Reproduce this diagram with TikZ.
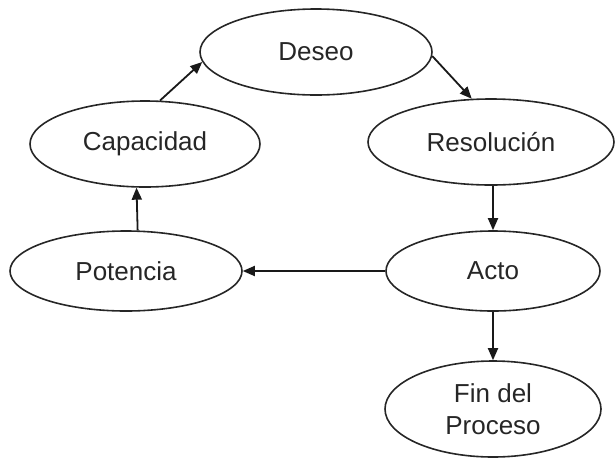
\documentclass[tikz,border=0pt]{standalone}
\usepackage{fontspec}
\setmainfont{Liberation Sans}
\usetikzlibrary{arrows.meta,calc,shapes.geometric}
\begin{document}
\begin{tikzpicture}[x=1pt,y=-1pt,
  el/.style={draw=black!85,line width=1.6pt,ellipse,inner sep=0pt,
    font=\fontsize{26}{32}\selectfont,text=black!85,align=center},
  arr/.style={draw=black!90,line width=1.8pt,-{Triangle[length=12pt,width=10pt]}}]
\useasboundingbox (0,0) rectangle (616,464);
\node[el,minimum width=232pt,minimum height=86pt] (des) at (316,52) {Deseo};
\node[el,minimum width=230pt,minimum height=86pt] (cap) at (145,144) {Capacidad};
\node[el,minimum width=246pt,minimum height=86pt] (res) at (491,142) {Resolución};
\node[el,minimum width=232pt,minimum height=80pt] (pot) at (126,271) {Potencia};
\node[el,minimum width=214pt,minimum height=80pt] (act) at (493,271) {Acto};
\node[el,minimum width=216pt,minimum height=96pt] (fin) at (493,409) {Fin del\\Proceso};
\draw[arr] (cap.71.6) -- (des.185.4);
\draw[arr] (des.358) -- (res.114.3);
\draw[arr] (res.south -| act.north) -- (act.north);
\draw[arr] (act.west) -- (pot.east);
\draw[arr] (pot.74.5) -- (cap.259.7);
\draw[arr] (act.south) -- (fin.north);
\end{tikzpicture}
\end{document}
